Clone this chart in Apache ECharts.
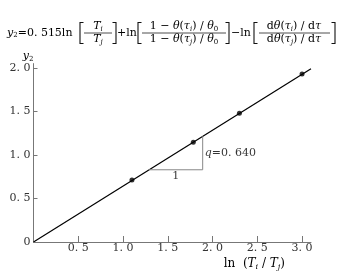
<!DOCTYPE html>
<html><head><meta charset="utf-8">
<script src="https://cdn.jsdelivr.net/npm/echarts@6/dist/echarts.min.js"></script>
<style>html,body{margin:0;padding:0;background:#fff}#c{width:343px;height:273px}</style>
</head><body><div id="c"></div>
<script>
// Data
var xTicks = [0.5, 1.0, 1.5, 2.0, 2.5, 3.0];
var yTicks = [0, 0.5, 1.0, 1.5, 2.0];
var pointsX = [1.10, 1.785, 2.30, 3.00];
var pointsY = [0.713, 1.146, 1.48, 1.93];
var fitX = [0, 3.10];
var fitY = [0, 1.99];
var triX = [1.29, 1.89, 1.89];
var triY = [0.83, 0.83, 1.215];
var runLabel = '1';
var slopeLabel = '{i|q}=0. 640';

function fmt(v){ var s = v.toFixed(1); return s.replace('.', '. '); }

var F = '"DejaVu Serif", "Liberation Serif", serif';
var chart = echarts.init(document.getElementById('c'), null, {renderer:'canvas'});

function bracketL(x){ return {type:'polyline', shape:{points:[[x+3.5,22.5],[x,22.5],[x,43.5],[x+3.5,43.5]]}, style:{stroke:'#111', lineWidth:1.1, fill:null}}; }
function bracketR(x){ return {type:'polyline', shape:{points:[[x-3.5,22.5],[x,22.5],[x,43.5],[x-3.5,43.5]]}, style:{stroke:'#111', lineWidth:1.1, fill:null}}; }
function bar(x1,x2){ return {type:'line', shape:{x1:x1,y1:33,x2:x2,y2:33}, style:{stroke:'#222', lineWidth:0.8}}; }
function mkRich(size){
  return {
    i:{fontFamily:F, fontStyle:'italic', fontSize:size, fill:'#000', color:'#000'},
    s:{fontFamily:F, fontStyle:'italic', fontSize:7, fill:'#000', color:'#000', verticalAlign:'bottom', padding:[5,0,0,0]},
    n:{fontFamily:F, fontSize:7, fill:'#000', color:'#000', verticalAlign:'bottom', padding:[5,0,0,0]}
  };
}
function txt(x,y,t,align,size){ size=size||11; return {type:'text', x:x, y:y, style:{text:t, rich:mkRich(size), fontFamily:F, fontSize:size, fill:'#000', align:align||'left', verticalAlign:'middle'}}; }

var graphics = [
  txt(7,33,'{i|y}{n|2}=0. 515ln'),
  bracketL(80), bracketR(116),
  txt(98,26.5,'{i|T}{s|i}','center'),
  txt(98,39.5,'{i|T}{s|j}','center'),
  bar(84,112),
  txt(117,33,'+ln'),
  bracketL(138), bracketR(229),
  txt(184,26.5,'1 − {i|θ}({i|τ}{s|i}) / {i|θ}{n|0}','center'),
  txt(184,39.5,'1 − {i|θ}({i|τ}{s|j}) / {i|θ}{n|0}','center'),
  bar(142,226),
  txt(231,33,'−ln'),
  bracketL(254), bracketR(335),
  txt(294,26.5,'d{i|θ}({i|τ}{s|i}) / d{i|τ}','center'),
  txt(294,39.5,'d{i|θ}({i|τ}{s|j}) / d{i|τ}','center'),
  bar(259,330)
];

var pts = pointsX.map(function(x,i){return [x, pointsY[i]];});
var fit = fitX.map(function(x,i){return [x, fitY[i]];});
var tri = triX.map(function(x,i){return [x, triY[i]];});

chart.setOption({
  animation:false,
  grid:{left:33.5, right:32, top:63.6, bottom:31, containLabel:false},
  xAxis:{type:'value', min:0, max:3.1, interval:0.5,
    axisLine:{lineStyle:{color:'#777', width:1}},
    axisTick:{inside:true, length:6, lineStyle:{color:'#777'}},
    splitLine:{show:false},
    axisLabel:{fontFamily:F, fontSize:11, color:'#333', margin:1, showMaxLabel:false,
      formatter:function(v){ for(var k=0;k<xTicks.length;k++){ if(Math.abs(v-xTicks[k])<1e-6) return fmt(v);} return ''; }},
    name:'ln  ({i|T}{s|i} / {i|T}{s|j})', nameLocation:'end', nameGap:0,
    nameTextStyle:{fontFamily:F, fontSize:12, color:'#000', align:'right', verticalAlign:'top', padding:[15,26,0,0], rich:{
      i:{fontFamily:F, fontStyle:'italic', fontSize:12, color:'#000'},
      s:{fontFamily:F, fontStyle:'italic', fontSize:8, color:'#000', verticalAlign:'bottom', padding:[6,0,0,0]}}}
  },
  yAxis:{type:'value', min:0, max:2.05, interval:0.5,
    axisLine:{show:true, lineStyle:{color:'#777', width:1}},
    axisTick:{show:true, inside:true, length:4, lineStyle:{color:'#777'}},
    splitLine:{show:false},
    axisLabel:{fontFamily:F, fontSize:11, color:'#333', margin:3, showMaxLabel:false,
      formatter:function(v){ for(var k=0;k<yTicks.length;k++){ if(Math.abs(v-yTicks[k])<1e-6) return v===0?'0':fmt(v);} return ''; }},
    name:'{i|y}{n|2}', nameLocation:'end', nameGap:1,
    nameTextStyle:{fontFamily:F, fontSize:11, color:'#000', align:'right', padding:[0,0,0,0], rich:{
      i:{fontFamily:F, fontStyle:'italic', fontSize:11, color:'#000'},
      n:{fontFamily:F, fontSize:7, color:'#000', verticalAlign:'bottom', padding:[5,0,0,0]}}}
  },
  graphic:graphics,
  series:[
    {type:'line', data:fit, symbol:'none', lineStyle:{color:'#000', width:1.2}, silent:true},
    {type:'line', data:tri, symbol:'none', lineStyle:{color:'#888', width:1}, silent:true},
    {type:'scatter', data:pts, symbol:'circle', symbolSize:5, itemStyle:{color:'#000'}, silent:true},
    {type:'scatter', data:[[ (triX[0]+triX[1])/2, triY[0] ]], symbolSize:0, silent:true,
      label:{show:true, position:'bottom', distance:1, formatter:runLabel, fontFamily:F, fontSize:11, color:'#000'}},
    {type:'scatter', data:[[ triX[1], (triY[0]+triY[2])/2 ]], symbolSize:0, silent:true,
      label:{show:true, position:'right', distance:2, fontFamily:F, fontSize:11, color:'#000',
        formatter:slopeLabel, rich:{i:{fontFamily:F, fontStyle:'italic', fontSize:11, color:'#000'}}}}
  ]
});
</script></body></html>
